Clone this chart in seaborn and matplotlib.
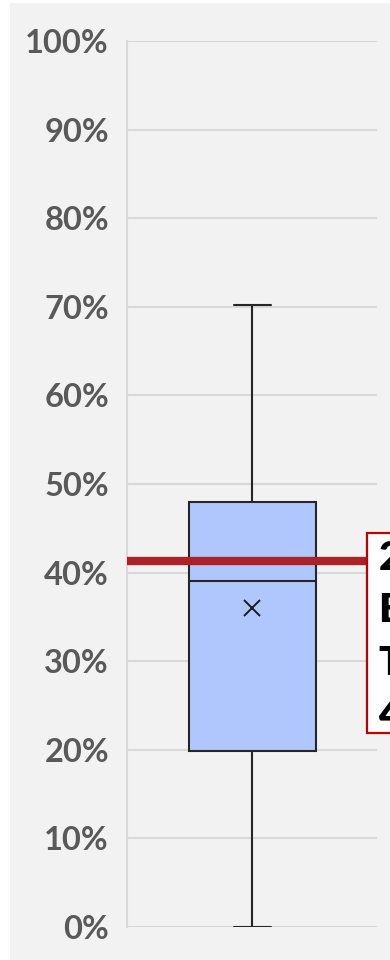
import matplotlib
matplotlib.use("Agg")
import matplotlib.pyplot as plt
from matplotlib.patches import Rectangle
from matplotlib.ticker import PercentFormatter
import seaborn as sns

# Five-number summary of the score distribution (share of maximum)
summary = [0.0, 0.198, 0.390, 0.480, 0.7025]   # min, Q1, median, Q3, max
mean_value = 0.360
target_value = 0.413
target_text = "2019\nBenchmark\nTarget\n41%"
y_ticks = [i / 10 for i in range(11)]

sns.set_theme(style="white")
plt.rcParams["font.family"] = ["Lato", "DejaVu Sans"]

fig = plt.figure(figsize=(3.9, 9.6), dpi=100)
fig.patch.set_facecolor("white")
fig.patches.append(Rectangle((10 / 390, 0), 380 / 390, 957 / 960,
                             transform=fig.transFigure, facecolor="#f2f2f2",
                             edgecolor="none", zorder=-10))

ax = fig.add_axes([127 / 390, 1 - 926.7 / 960, 250 / 390, (926.7 - 41.3) / 960])
ax.set_facecolor("none")

sns.boxplot(y=summary, ax=ax, width=0.508, whis=(0, 100),
            color="#afc7fd", linecolor="#262626", linewidth=1.5,
            saturation=1, capwidths=0.148, zorder=3)

ax.plot(0, mean_value, marker="x", markersize=12, markeredgewidth=1.4,
        color="#1a1a1a", linestyle="none", zorder=4)

ax.axhline(target_value, xmin=0, xmax=0.96, color="#ab2229", linewidth=6,
           solid_capstyle="butt", zorder=5)

ax.add_patch(Rectangle((0.959, 0.219), 0.5, 0.226, transform=ax.transAxes,
                       facecolor="white", edgecolor="#c00000", linewidth=1.6,
                       clip_on=False, zorder=6))
ax.text(1.006, 0.327, target_text, transform=ax.transAxes, ha="left",
        va="center", fontsize=29, fontweight="heavy", color="black",
        linespacing=1.5, clip_on=False, zorder=7)

ax.set_xlim(-0.5, 0.5)
ax.set_ylim(0, 1)
ax.set_yticks(y_ticks)
ax.yaxis.set_major_formatter(PercentFormatter(1.0, decimals=0))
ax.set_xticks([])
ax.set_xlabel("")
ax.set_ylabel("")
ax.tick_params(axis="y", length=0, pad=13, labelsize=23.5, labelcolor="#595959")
for lab in ax.get_yticklabels():
    lab.set_fontweight("bold")

ax.yaxis.grid(True, color="#d9d9d9", linewidth=1.5, zorder=0)
ax.set_axisbelow(True)
for side in ["top", "right", "bottom"]:
    ax.spines[side].set_visible(False)
ax.spines["left"].set_color("#d9d9d9")
ax.spines["left"].set_linewidth(1.5)

fig.savefig("out.png", dpi=100)
